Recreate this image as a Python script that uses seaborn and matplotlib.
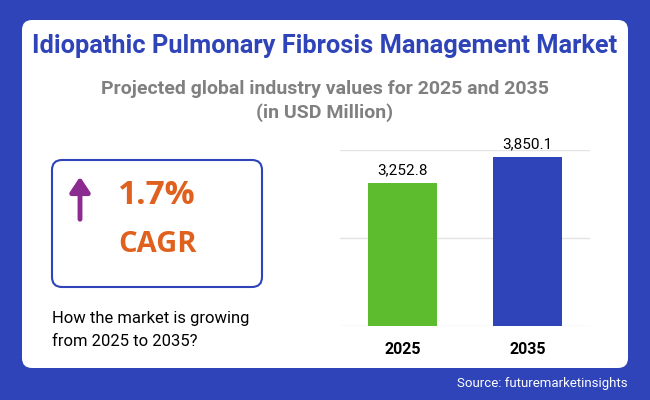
import matplotlib
matplotlib.use("Agg")
import matplotlib.pyplot as plt
import seaborn as sns
import pandas as pd
from matplotlib.patches import FancyBboxPatch

years = ["2025", "2035"]
values = [3252.8, 3850.1]
value_labels = ["3,252.8", "3,850.1"]
colors = ["#5CBC2E", "#2E44B8"]

W, H = 650, 400
fig = plt.figure(figsize=(6.5, 4), dpi=100)
fig.patch.set_facecolor("#2E44B8")
bg = fig.add_axes([0, 0, 1, 1]); bg.set_xlim(0, W); bg.set_ylim(H, 0); bg.axis("off")
bg.add_patch(FancyBboxPatch((22, 20), 606, 348, boxstyle="round,pad=0,rounding_size=10",
                            fc="white", ec="none"))
bg.add_patch(FancyBboxPatch((52, 160), 210, 127, boxstyle="round,pad=0,rounding_size=10",
                            fc="white", ec="#2E44B8", lw=1.5))
ff = "Roboto"
bg.text(325, 46, "Idiopathic Pulmonary Fibrosis Management Market", ha="center", va="center",
        fontsize=18.3, fontweight="bold", color="#2E44B8", family=ff)
bg.text(325, 89, "Projected global industry values for 2025 and 2035", ha="center", va="center",
        fontsize=14, fontweight="bold", color="#808080", family=ff)
bg.text(325, 113, "(in USD Million)", ha="center", va="center",
        fontsize=14, fontweight="bold", color="#808080", family=ff)
bg.annotate("", xy=(80, 174), xytext=(80, 222),
            arrowprops=dict(arrowstyle="-|>,head_width=0.6,head_length=0.9", color="#8B2A8F", lw=3.5))
bg.text(118, 196, "1.7%", ha="left", va="center", fontsize=24, fontweight="bold", color="#E0601E",
        family="Open Sans")
bg.text(118, 244, "CAGR", ha="left", va="center", fontsize=21, fontweight="bold", color="#E0601E",
        family="Open Sans")
bg.text(52, 318, "How the market is growing", ha="left", va="center", fontsize=12, color="black", family=ff)
bg.text(52, 342, "from 2025 to 2035?", ha="left", va="center", fontsize=12, color="black", family=ff)
bg.text(628, 384, "Source: futuremarketinsights", ha="right", va="center", fontsize=9.5, color="white", family=ff)

ax = fig.add_axes([340/W, (H-326)/H, 250/W, (326-150)/H])
df = pd.DataFrame({"year": years, "value": values})
sns.barplot(data=df, x="year", y="value", hue="year", palette=colors, legend=False, ax=ax,
            width=0.55, saturation=1)
ax.set_ylim(0, 4000)
ax.set_yticks([0, 2000, 4000])
ax.yaxis.grid(True, color="#E3E3E3", lw=1)
ax.set_axisbelow(True)
ax.tick_params(axis="y", left=False, labelleft=False)
ax.tick_params(axis="x", bottom=False, labelsize=11.5, pad=8)
for l in ax.get_xticklabels():
    l.set_fontweight("bold"); l.set_family(ff)
for s in ax.spines.values():
    s.set_visible(False)
ax.set_xlabel(""); ax.set_ylabel("")
for i, (v, t) in enumerate(zip(values, value_labels)):
    ax.text(i, v + 120, t, ha="center", va="bottom", fontsize=11, family=ff)
fig.savefig("out.png", dpi=100, facecolor=fig.get_facecolor())
